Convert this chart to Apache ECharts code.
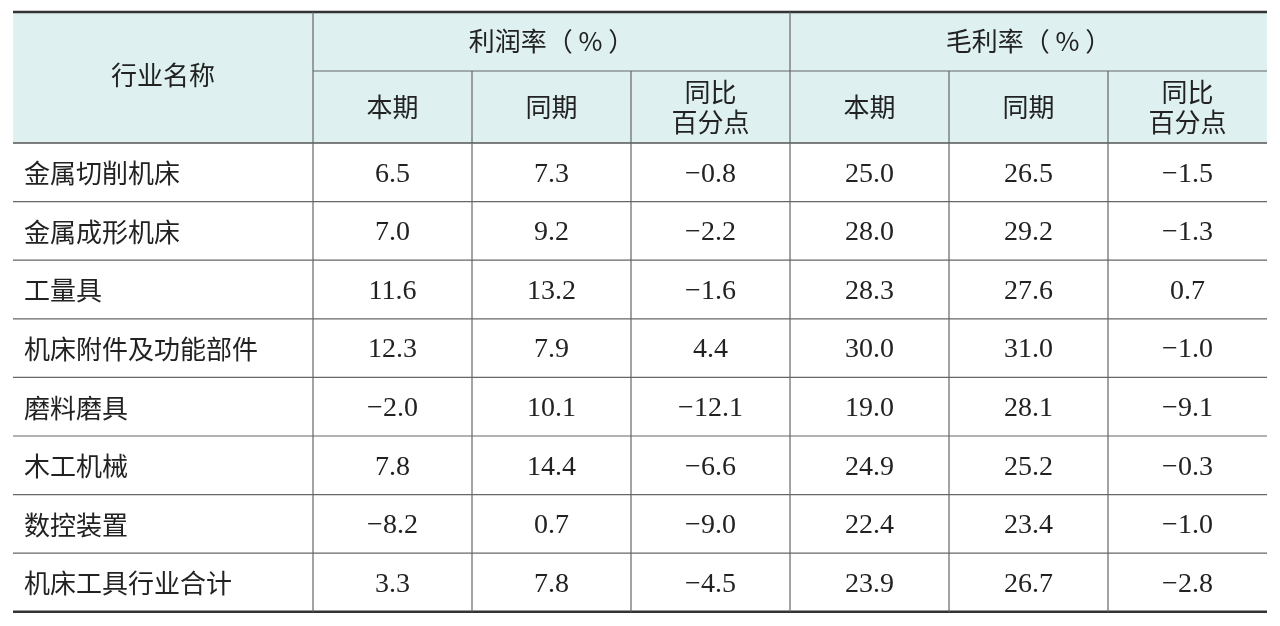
<!DOCTYPE html>
<html><head><meta charset="utf-8">
<script src="https://cdn.jsdelivr.net/npm/echarts@6/dist/echarts.min.js"></script>
<style>html,body{margin:0;background:#fff}#c{width:1280px;height:626px}</style>
</head><body><div id="c"></div>
<script>
const industries=["金属切削机床","金属成形机床","工量具","机床附件及功能部件","磨料磨具","木工机械","数控装置","机床工具行业合计"];
const profitCur=["6.5","7.0","11.6","12.3","−2.0","7.8","−8.2","3.3"];
const profitPrev=["7.3","9.2","13.2","7.9","10.1","14.4","0.7","7.8"];
const profitDiff=["−0.8","−2.2","−1.6","4.4","−12.1","−6.6","−9.0","−4.5"];
const grossCur=["25.0","28.0","28.3","30.0","19.0","24.9","22.4","23.9"];
const grossPrev=["26.5","29.2","27.6","31.0","28.1","25.2","23.4","26.7"];
const grossDiff=["−1.5","−1.3","0.7","−1.0","−9.1","−0.3","−1.0","−2.8"];
const groupHeaders=["利润率（ % ）","毛利率（ % ）"];
const subHeaders=["本期","同期","同比\n百分点"];
const nameHeader="行业名称";

const X0=13,X1=313,CW=159,Y0=12,YH1=71,YH2=143,RH=58.6;
const cols=[profitCur,profitPrev,profitDiff,grossCur,grossPrev,grossDiff];
const XR=X1+CW*6;
const g=[];
const cjk='"Noto Sans CJK SC"';
g.push({type:'rect',shape:{x:X0,y:Y0,width:XR-X0,height:YH2-Y0},style:{fill:'#dff0f0'}});
const line=(x1,y1,x2,y2,w,c)=>g.push({type:'line',shape:{x1,y1,x2,y2},style:{stroke:c||'#666',lineWidth:w||1.2}});
line(X0,Y0,XR,Y0,2.5,'#333');
line(X0,YH2,XR,YH2,1.5,'#555');
line(X1,YH1,XR,YH1,1.2);
for(let i=1;i<industries.length;i++)line(X0,YH2+RH*i,XR,YH2+RH*i,1.2);
const bottom=YH2+RH*industries.length;
line(X0,bottom,XR,bottom,2.5,'#333');
line(X1,Y0,X1,bottom);line(X1+CW*3,Y0,X1+CW*3,bottom);
for(let j=1;j<6;j++)if(j!==3)line(X1+CW*j,YH1,X1+CW*j,bottom);
const txt=(s,x,y,align,font,size,lh)=>g.push({type:'text',x,y,style:{text:s,align:align,verticalAlign:'middle',font:size+'px '+font,fill:'#222',lineHeight:lh||size}});
txt(nameHeader,(X0+X1)/2,(Y0+YH2)/2-2,'center',cjk,26);
groupHeaders.forEach((h,k)=>txt(h,X1+CW*3*k+CW*1.5,(Y0+YH1)/2,'center',cjk,26));
for(let j=0;j<6;j++){const s=subHeaders[j%3];txt(s,X1+CW*j+CW/2,(YH1+YH2)/2,'center',cjk,26,30);}
industries.forEach((n,i)=>{
  const cy=YH2+RH*i+RH/2;
  txt(n,24,cy+1,'left',cjk,26);
  cols.forEach((c,j)=>txt(c[i],X1+CW*j+CW/2,cy+2,'center','"Liberation Serif"',28));
});
const ch=echarts.init(document.getElementById('c'));
ch.setOption({animation:false,graphic:g});
</script></body></html>
